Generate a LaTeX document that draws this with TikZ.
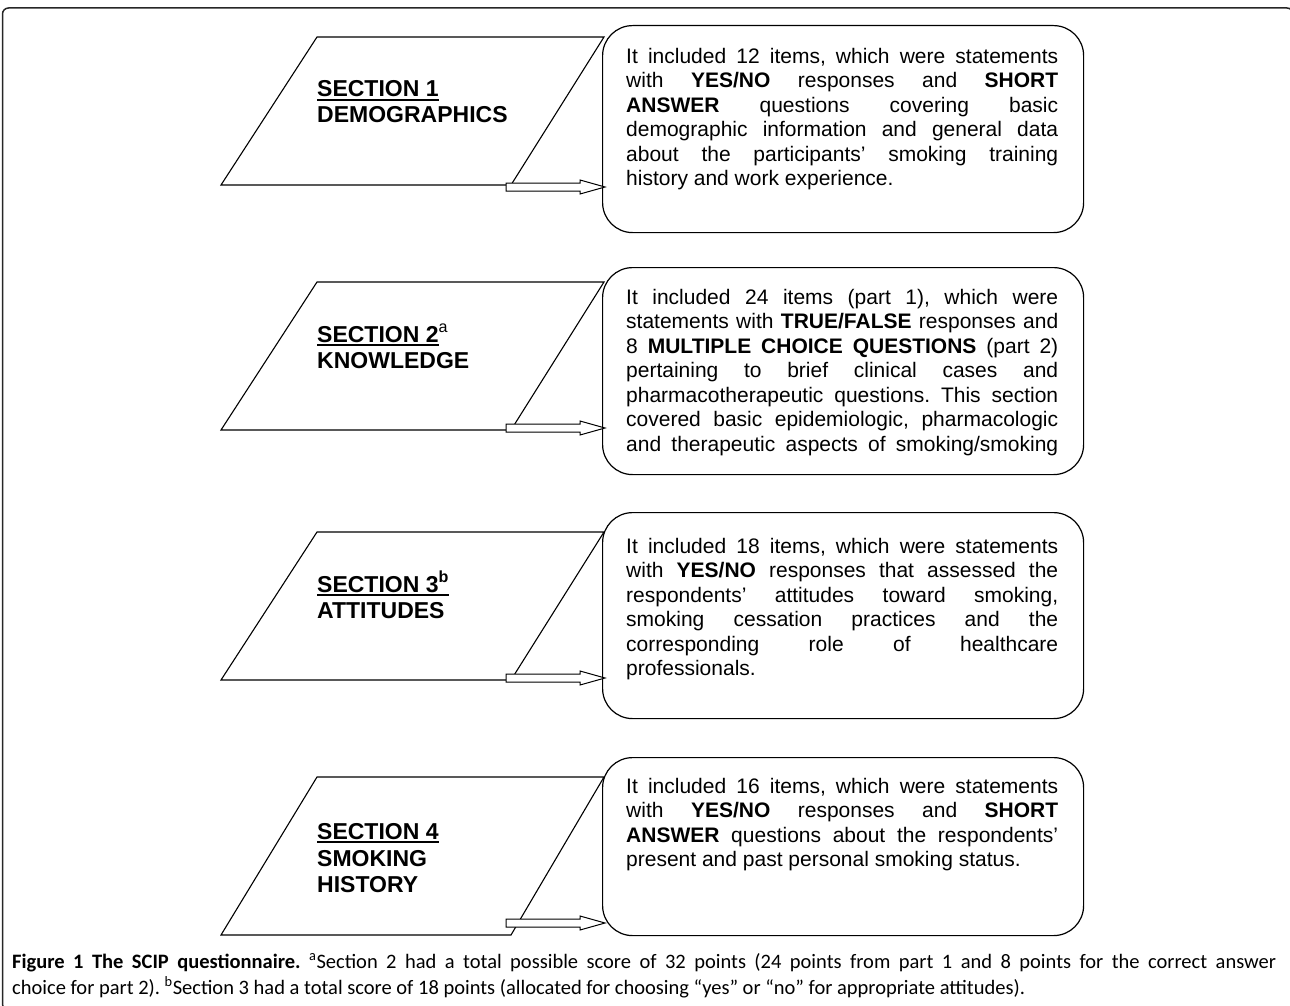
\documentclass[tikz,border=0pt]{standalone}
\usepackage{fontspec}
\setmainfont{Liberation Sans}
\newfontfamily\capfont{Carlito}
\usetikzlibrary{calc}
\frenchspacing
\newcommand\firststrut{\leavevmode\vrule height 16pt depth 0pt width 0pt\relax}
\newcommand\textblock[2]{\parbox[t]{#1}{\frenchspacing\tolerance=10000 \hyphenpenalty=10000 \exhyphenpenalty=10000 \firststrut #2}}
\begin{document}
\begin{tikzpicture}[x=1pt,y=-1pt,
  frameline/.style={draw=black!85, line width=1.5pt, rounded corners=6pt},
  paraline/.style={draw, line width=1.1pt, line join=miter},
  infobox/.style={draw, line width=1.2pt, rounded corners=30pt, fill=white,
    minimum width=481pt, anchor=north west, inner sep=0pt},
  infotext/.style={inner sep=0pt, anchor=north west, font=\fontsize{21}{24.5}\selectfont},
  headtext/.style={inner sep=0pt, anchor=base west, font=\fontsize{23}{26.5}\selectfont\bfseries},
  headrule/.style={line width=2.2pt},
  blockarrow/.style={draw, line width=1pt, fill=white, line join=miter},
  captext/.style={inner sep=0pt, anchor=north west, font=\capfont\fontsize{20.5}{26}\selectfont}
]
\useasboundingbox (0,0) rectangle (1290,1006);
\draw[frameline] (2.5,8) rectangle (1293,1010);

% ---------- parallelograms ----------
\foreach \T/\B/\n in {37/185/1, 282/430/2, 532/680/3, 777/935/4}{
  \coordinate (p\n tl) at (317,\T);
  \coordinate (p\n tr) at (604,\T);
  \coordinate (p\n br) at (511,\B);
  \coordinate (p\n bl) at (221,\B);
  \draw[paraline] (p\n tl) -- (p\n tr) -- (p\n br) -- (p\n bl) -- cycle;
}

% ---------- headings ----------
\node[headtext] (h1a) at (317,97) {SECTION 1};
\node[headtext] (h1b) at (317,123) {DEMOGRAPHICS};
\node[headtext] (h2a) at (317,342) {SECTION 2\rlap{\textsuperscript{\mdseries a}}};
\node[headtext] (h2b) at (317,368) {KNOWLEDGE};
\node[headtext] (h3a) at (317,592) {SECTION 3\textsuperscript{b}};
\node[headtext] (h3b) at (317,618) {ATTITUDES};
\node[headtext] (h4a) at (317,839) {SECTION 4};
\node[headtext] (h4b) at (317,866) {SMOKING};
\node[headtext] (h4c) at (317,892) {HISTORY};
\foreach \n in {1,2,3,4}{
  \draw[headrule] ([yshift=-3pt]h\n a.base west) -- ([yshift=-3pt]h\n a.base east);
}

% ---------- boxes ----------
\node[infobox, minimum height=207pt] (b1) at (602,25) {};
\node[infobox, minimum height=207pt] (b2) at (602,267) {};
\node[infobox, minimum height=206pt] (b3) at (602,512) {};
\node[infobox, minimum height=178pt] (b4) at (602,757) {};

\node[infotext] (t1) at (626,47) {\textblock{432pt}{It included 12 items, which were statements\linebreak
with \textbf{YES/NO} responses and \textbf{SHORT}\linebreak
\textbf{ANSWER} questions covering basic\linebreak
demographic information and general data\linebreak
about the participants’ smoking training\linebreak
history and work experience.}};

\node[infotext] (t2) at (626,288) {\textblock{432pt}{\parfillskip=0pt It included 24 items (part 1), which were\linebreak
statements with \textbf{TRUE/FALSE} responses and\linebreak
8 \textbf{MULTIPLE CHOICE QUESTIONS} (part 2)\linebreak
pertaining to brief clinical cases and\linebreak
pharmacotherapeutic questions. This section\linebreak
covered basic epidemiologic, pharmacologic\linebreak
and therapeutic aspects of smoking/smoking}};

\node[infotext] (t3) at (626,537) {\textblock{432pt}{It included 18 items, which were statements\linebreak
with \textbf{YES/NO} responses that assessed the\linebreak
respondents’ attitudes toward smoking,\linebreak
smoking cessation practices and the\linebreak
corresponding role of healthcare\linebreak
professionals.}};

\node[infotext] (t4) at (626,777) {\textblock{432pt}{It included 16 items, which were statements\linebreak
with \textbf{YES/NO} responses and \textbf{SHORT}\linebreak
\textbf{ANSWER} questions about the respondents’\linebreak
present and past personal smoking status.}};

% ---------- block arrows ----------
\coordinate (s1) at (506,187);
\coordinate (s2) at (506,428);
\coordinate (s3) at (506,678);
\coordinate (s4) at (506,923);
\foreach \n in {1,2,3,4}{
  \coordinate (e\n) at ($(s\n -| b\n.west)+(3,0)$);
  \draw[blockarrow] ($(s\n)+(0,-4)$) -- ($(e\n)+(-25,-4)$) -- ($(e\n)+(-25,-7)$) -- (e\n)
     -- ($(e\n)+(-25,7)$) -- ($(e\n)+(-25,4)$) -- ($(s\n)+(0,4)$) -- cycle;
}

% ---------- caption ----------
\node[captext] (cap) at (12,952) {\textblock{1264pt}{\textbf{Figure 1 The SCIP questionnaire.} \textsuperscript{a}Section 2 had a total possible score of 32 points (24 points from part 1 and 8 points for the correct answer\linebreak
choice for part 2). \textsuperscript{b}Section 3 had a total score of 18 points (allocated for choosing “yes” or “no” for appropriate attitudes).}};
\end{tikzpicture}
\end{document}
